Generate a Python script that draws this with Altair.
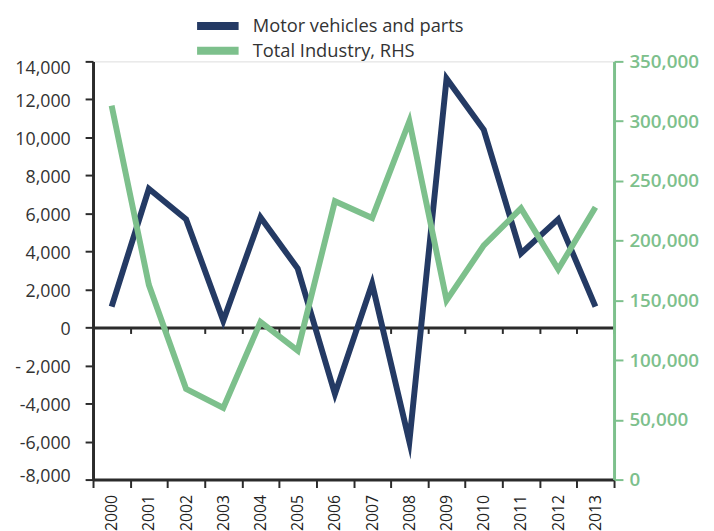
import altair as alt
import pandas as pd

# ---- data ----
years = ["2000", "2001", "2002", "2003", "2004", "2005", "2006",
         "2007", "2008", "2009", "2010", "2011", "2012", "2013"]
motor_vehicles = [1100, 7300, 5700, 350, 5800, 3100, -3500,
                  2300, -6000, 13100, 10400, 3900, 5700, 1100]
total_industry = [313000, 163000, 76000, 60000, 132000, 108000, 233000,
                  219000, 300000, 150000, 196000, 227000, 176000, 228000]
series_names = ["Motor vehicles and parts", "Total Industry, RHS"]
series_colors = ["#243A64", "#7DC08C"]
left_ticks = [-8000, -6000, -4000, -2000, 0, 2000, 4000, 6000,
              8000, 10000, 12000, 14000]
right_ticks = [0, 50000, 100000, 150000, 200000, 250000, 300000, 350000]

df_m = pd.DataFrame({"year": years, "value": motor_vehicles, "series": series_names[0]})
df_t = pd.DataFrame({"year": years, "value": total_industry, "series": series_names[1]})

W, H = 527, 423
FONT = "Open Sans"
DARK = "#2b2b2b"
GREEN = series_colors[1]
LMIN, LMAX = left_ticks[0], left_ticks[-1]
zero_offset = -H * (0 - LMIN) / (LMAX - LMIN)

xscale = alt.Scale(type="band", paddingInner=0, paddingOuter=0)

# wide flat bar used as legend key (unit path, scaled by sqrt(size)/2)
legend_bar = "M-4.2,0H4.2"


def series_color(i, legend_y):
    return alt.Color(
        "series:N",
        scale=alt.Scale(domain=[series_names[i]], range=[series_colors[i]]),
        legend=alt.Legend(
            title=None, orient="none", legendX=117, legendY=legend_y,
            symbolType=legend_bar, symbolStrokeWidth=8, symbolSize=100,
            labelFontSize=18.5, labelFont=FONT, labelColor="#333333",
            labelOffset=26, labelLimit=0, padding=0,
        ),
    )


line_style = dict(strokeWidth=6, strokeJoin="miter", strokeMiterLimit=10)

left = alt.Chart(df_m).mark_line(**line_style).encode(
    x=alt.X("year:N", sort=years, title=None, scale=xscale,
            axis=alt.Axis(orient="bottom", labelAngle=270, labelFontSize=16,
                          labelFont=FONT, labelColor="#222222",
                          domainColor=DARK, domainWidth=3, tickColor=DARK,
                          tickWidth=2, tickSize=8, tickBand="extent",
                          labelPadding=7, grid=False)),
    y=alt.Y("value:Q", title=None,
            scale=alt.Scale(domain=[LMIN, LMAX], nice=False, zero=False),
            axis=alt.Axis(orient="left", values=left_ticks, grid=False,
                          labelExpr="datum.value == -2000 ? '- 2,000' : (datum.value < 0 ? '-' : '') + format(abs(datum.value), ',')",
                          labelFont=FONT, labelFontSize=18, labelColor="#333333",
                          labelFlush=True, labelFlushOffset=4, labelOffset=2,
                          domainColor=DARK, domainWidth=3, tickColor=DARK,
                          tickWidth=2, tickSize=8, labelPadding=15)),
    color=series_color(0, -45),
)

right = alt.Chart(df_t).mark_line(**line_style).encode(
    x=alt.X("year:N", sort=years, title=None, scale=xscale,
            axis=alt.Axis(orient="bottom", offset=zero_offset, labels=False,
                          domainColor=DARK, domainWidth=3, tickColor=DARK,
                          tickWidth=2, tickSize=6, tickBand="extent", grid=False)),
    y=alt.Y("value:Q", title=None,
            scale=alt.Scale(domain=[right_ticks[0], right_ticks[-1]], nice=False, zero=False),
            axis=alt.Axis(orient="right", values=right_ticks, grid=False,
                          labelExpr="format(datum.value, ',')",
                          labelFont=FONT, labelFontSize=19, labelFontWeight=600,
                          labelColor=GREEN, domainColor=GREEN, domainWidth=3,
                          tickColor=GREEN, tickWidth=2, tickSize=9, labelPadding=6)),
    color=series_color(1, -20),
)

chart = alt.layer(left, right).resolve_scale(
    y="independent", color="independent"
).resolve_axis(
    x="independent", y="independent"
).resolve_legend(color="independent").properties(
    width=W, height=H,
    autosize=alt.AutoSizeParams(type="none"),
    padding={"left": 86, "top": 51, "right": 93, "bottom": 49},
).configure_view(stroke=None).configure(background="white")

chart.save("out.html", embed_options={"renderer": "svg", "actions": False})
